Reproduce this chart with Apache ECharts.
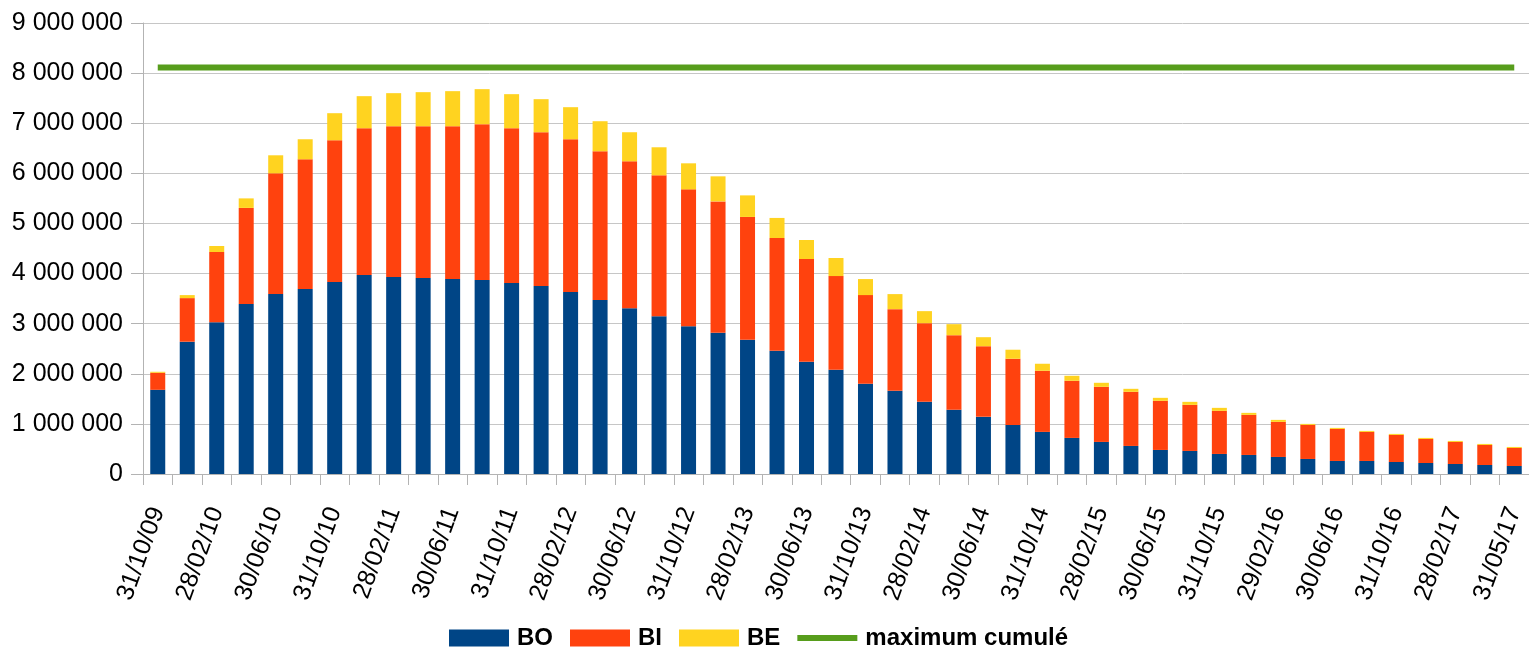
<!DOCTYPE html>
<html>
<head>
<meta charset="utf-8">
<script src="https://cdn.jsdelivr.net/npm/echarts@6/dist/echarts.min.js"></script>
<style>
html,body{margin:0;padding:0;background:#fff;}
#chart{width:1529px;height:647px;}
</style>
</head>
<body>
<div id="chart"></div>
<script>
const categories = [
  '31/10/09','31/12/09','28/02/10','30/04/10','30/06/10','31/08/10','31/10/10','31/12/10',
  '28/02/11','30/04/11','30/06/11','31/08/11','31/10/11','31/12/11','28/02/12','30/04/12',
  '30/06/12','31/08/12','31/10/12','31/12/12','28/02/13','30/04/13','30/06/13','31/08/13',
  '31/10/13','31/12/13','28/02/14','30/04/14','30/06/14','31/08/14','31/10/14','31/12/14',
  '28/02/15','30/04/15','30/06/15','31/08/15','31/10/15','31/12/15','29/02/16','30/04/16',
  '30/06/16','31/08/16','31/10/16','31/12/16','28/02/17','30/04/17','31/05/17'
];
const BO = [
  1680000,2640000,3030000,3390000,3590000,3690000,3830000,3970000,
  3930000,3910000,3890000,3870000,3810000,3750000,3630000,3470000,
  3310000,3150000,2950000,2820000,2680000,2460000,2240000,2080000,
  1800000,1660000,1440000,1280000,1140000,980000,840000,720000,
  640000,560000,480000,460000,400000,380000,340000,300000,
  260000,260000,240000,220000,200000,180000,160000
];
const BI = [
  340000,870000,1400000,1920000,2410000,2590000,2830000,2930000,
  3010000,3030000,3050000,3110000,3090000,3070000,3050000,2970000,
  2930000,2810000,2730000,2620000,2450000,2250000,2050000,1870000,
  1770000,1630000,1570000,1490000,1410000,1320000,1220000,1140000,
  1100000,1080000,980000,920000,860000,800000,700000,680000,
  640000,580000,540000,480000,440000,400000,360000
];
const BE = [
  20000,60000,120000,190000,360000,400000,540000,640000,
  660000,680000,700000,700000,680000,660000,640000,600000,
  580000,560000,520000,500000,430000,400000,380000,360000,
  320000,300000,240000,220000,180000,180000,140000,100000,
  80000,60000,60000,60000,60000,40000,40000,20000,
  20000,20000,20000,20000,20000,20000,20000
];
const MAX_CUMULE = 8110000;
const yTicks = [0,1000000,2000000,3000000,4000000,5000000,6000000,7000000,8000000,9000000];

const fmt = v => String(v).replace(/\B(?=(\d{3})+(?!\d))/g, ' ');
const FONT = '"Liberation Sans", Arial, sans-serif';

const chart = echarts.init(document.getElementById('chart'), null, {renderer:'canvas'});
chart.setOption({
  animation: false,
  backgroundColor: '#ffffff',
  grid: { left: 143, right: 0, top: 23, bottom: 173, containLabel: false },
  legend: {
    top: 621,
    left: 444,
    itemWidth: 60,
    itemHeight: 17,
    itemGap: 17,
    textStyle: { fontFamily: FONT, fontSize: 24, fontWeight: 'bold', color: '#000', padding: [0,0,0,3] },
    data: [
      { name: 'BO', icon: 'rect' },
      { name: 'BI', icon: 'rect' },
      { name: 'BE', icon: 'rect' },
      { name: 'maximum cumulé', icon: 'path://M0,0L60,0L60,6L0,6Z' }
    ]
  },
  xAxis: {
    type: 'category',
    data: categories,
    boundaryGap: true,
    axisLine: { show: true, lineStyle: { color: '#b3b3b3', width: 1 } },
    axisTick: { show: true, interval: 0, length: 11, lineStyle: { color: '#b3b3b3' } },
    axisLabel: {
      interval: 1, rotate: 70, margin: 34,
      fontFamily: FONT, fontSize: 25, color: '#000'
    },
    splitLine: { show: false }
  },
  yAxis: {
    type: 'value',
    min: yTicks[0],
    max: yTicks[yTicks.length - 1],
    interval: yTicks[1] - yTicks[0],
    axisLine: { show: true, lineStyle: { color: '#b3b3b3', width: 1 } },
    axisTick: { show: true, length: 12, lineStyle: { color: '#b3b3b3' } },
    axisLabel: { formatter: fmt, margin: 20, fontFamily: FONT, fontSize: 25, color: '#000' },
    splitLine: { show: true, lineStyle: { color: '#c6c6c6', width: 1 } }
  },
  series: [
    { name: 'BO', type: 'bar', stack: 'total', data: BO, barWidth: 15, itemStyle: { color: '#004586' } },
    { name: 'BI', type: 'bar', stack: 'total', data: BI, barWidth: 15, itemStyle: { color: '#ff420e' } },
    { name: 'BE', type: 'bar', stack: 'total', data: BE, barWidth: 15, itemStyle: { color: '#ffd320' } },
    {
      name: 'maximum cumulé', type: 'line',
      data: categories.map(() => MAX_CUMULE),
      symbol: 'none',
      itemStyle: { color: '#579d1c' },
      lineStyle: { color: '#579d1c', width: 6, cap: 'butt' },
      z: 5
    }
  ]
});
</script>
</body>
</html>
